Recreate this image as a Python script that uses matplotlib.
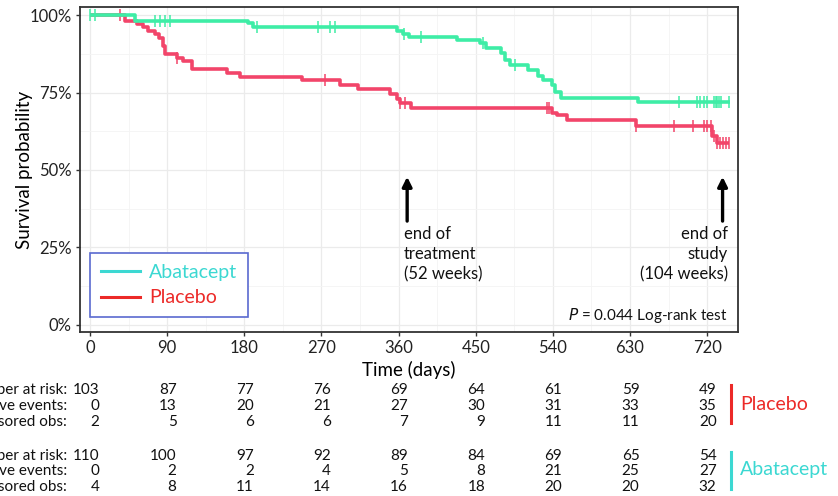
import numpy as np
import matplotlib
matplotlib.use("Agg")
import matplotlib.pyplot as plt
from matplotlib.lines import Line2D
from matplotlib.transforms import blended_transform_factory

plt.rcParams['font.family'] = ['Lato', 'DejaVu Sans']

# ---------------- data ----------------
placebo_times = [0, 41, 55, 62, 68, 76, 81, 85, 88, 101, 109, 119, 160, 175, 247, 292,
                 313, 350, 358, 362, 374, 539, 545, 557, 637, 726, 731]
placebo_surv = [1.0, 0.98, 0.97, 0.96, 0.95, 0.94, 0.925, 0.90, 0.873, 0.863, 0.853, 0.825,
                0.814, 0.80, 0.79, 0.775, 0.76, 0.745, 0.728, 0.715, 0.70, 0.685, 0.677,
                0.661, 0.642, 0.61, 0.588]
placebo_end = 745
placebo_censor = [35, 101, 274, 362, 368, 533, 536, 637, 681, 703, 716, 720, 724, 728,
                  732, 735, 738, 742, 745]

abatacept_times = [0, 53, 184, 190, 358, 365, 372, 428, 455, 462, 479, 484, 490, 511,
                   523, 529, 539, 543, 549, 639]
abatacept_surv = [1.0, 0.982, 0.973, 0.962, 0.95, 0.94, 0.93, 0.919, 0.909, 0.893, 0.876,
                  0.855, 0.839, 0.823, 0.804, 0.79, 0.774, 0.751, 0.731, 0.72]
abatacept_end = 747
abatacept_censor = [0, 6, 76, 82, 88, 93, 195, 266, 280, 286, 366, 386, 459, 496, 687,
                    708, 712, 716, 720, 728, 730, 732, 734, 736, 745]

table_days = [0, 90, 180, 270, 360, 450, 540, 630, 720]
placebo_risk = [103, 87, 77, 76, 69, 64, 61, 59, 49]
placebo_events = [0, 13, 20, 21, 27, 30, 31, 33, 35]
placebo_cens = [2, 5, 6, 6, 7, 9, 11, 11, 20]
abatacept_risk = [110, 100, 97, 92, 89, 84, 69, 65, 54]
abatacept_events = [0, 2, 2, 4, 5, 8, 21, 25, 27]
abatacept_cens = [4, 8, 11, 14, 16, 18, 20, 20, 32]
row_labels = ["Number at risk:", "Cumulative events:", "Censored obs:"]

x_ticks = [0, 90, 180, 270, 360, 450, 540, 630, 720]
y_ticks = [0, 0.25, 0.5, 0.75, 1.0]
y_ticklabels = ["0%", "25%", "50%", "75%", "100%"]

# ---------------- style ----------------
C_ABA_CURVE = "#3EEDA6"
C_PLA_CURVE = "#F2456A"
C_ABA_LEG = "#3CD8D2"
C_PLA_LEG = "#EC2A28"

W, H = 838, 496
fig = plt.figure(figsize=(W / 100, H / 100), dpi=100)
ax = fig.add_axes([80 / W, 1 - 332 / H, (738 - 80) / W, (332 - 7) / H])
ax.set_xlim(-11.7, 756)
ax.set_ylim(-0.023, 1.026)

ax.set_xticks(x_ticks)
ax.set_xticks(np.arange(45, 760, 90), minor=True)
ax.set_yticks(y_ticks)
ax.set_yticklabels(y_ticklabels)
ax.set_yticks([0.125, 0.375, 0.625, 0.875], minor=True)
ax.grid(which='major', color='#ebebeb', lw=0.9)
ax.grid(which='minor', color='#f4f4f4', lw=0.6)
ax.set_axisbelow(True)
ax.tick_params(which='major', length=3, width=1, color='#333333', labelsize=12,
               labelcolor='#222222', pad=3)
ax.tick_params(which='minor', length=0)
for s in ax.spines.values():
    s.set_color('#333333')
    s.set_linewidth(1.3)


def step_value(times, surv, t):
    i = np.searchsorted(np.asarray(times), t, side='right') - 1
    return np.asarray(surv)[max(i, 0)]


for times, surv, end, cens, col in [
        (placebo_times, placebo_surv, placebo_end, placebo_censor, C_PLA_CURVE),
        (abatacept_times, abatacept_surv, abatacept_end, abatacept_censor, C_ABA_CURVE)]:
    xs = list(times) + [end]
    ys = list(surv) + [surv[-1]]
    ax.step(xs, ys, where='post', color=col, lw=2.6, solid_capstyle='butt', zorder=3)
    cy = [step_value(times, surv, t) for t in cens]
    ax.plot(cens, cy, ls='none', marker='|', ms=9, mew=1.1, color=col, zorder=3)

ax.set_xlabel("Time (days)", fontsize=13.5, labelpad=3)
ax.set_ylabel("Survival probability", fontsize=13.5)
ax.yaxis.set_label_coords((33 - 80) / (738 - 80), 0.5)

# legend
h1 = Line2D([], [], color=C_ABA_LEG, lw=2.2)
h2 = Line2D([], [], color=C_PLA_LEG, lw=2.2)
leg = ax.legend([h1, h2], ["Abatacept", "Placebo"], loc='lower left',
                bbox_to_anchor=(0.0152, 0.046), fontsize=14, frameon=True,
                fancybox=False, edgecolor='#5A6ACF', framealpha=1,
                handlelength=2.0, handletextpad=0.5, borderpad=0.55,
                labelspacing=0.45, borderaxespad=0)
leg.get_frame().set_linewidth(1.2)
for txt, c in zip(leg.get_texts(), [C_ABA_LEG, C_PLA_LEG]):
    txt.set_color(c)

# annotations
ax.annotate("", xy=(370, 0.478), xytext=(370, 0.335),
            arrowprops=dict(arrowstyle='-|>', color='black', lw=2.4, mutation_scale=14,
                            shrinkA=0, shrinkB=0))
ax.annotate("", xy=(738, 0.478), xytext=(738, 0.335),
            arrowprops=dict(arrowstyle='-|>', color='black', lw=2.4, mutation_scale=14,
                            shrinkA=0, shrinkB=0))
ax.text(366, 0.318, "end of\ntreatment\n(52 weeks)", ha='left', va='top', fontsize=12,
        linespacing=1.3, color='#111111')
ax.text(744, 0.318, "end of\nstudy\n(104 weeks)", ha='right', va='top', fontsize=12,
        linespacing=1.3, color='#111111')
ax.text(744, 0.03, r"$\it{P}$ = 0.044 Log-rank test", ha='right', va='center',
        fontsize=11, color='#111111')

# risk table
tr = blended_transform_factory(ax.transData, fig.transFigure)
row_y_pla = [390, 406, 422]
row_y_aba = [456, 471, 487]
for rows_y, rows in [(row_y_pla, [placebo_risk, placebo_events, placebo_cens]),
                     (row_y_aba, [abatacept_risk, abatacept_events, abatacept_cens])]:
    for yp, lab, vals in zip(rows_y, row_labels, rows):
        fig.text(67 / W, 1 - yp / H, lab, ha='right', va='center', fontsize=11,
                 color='#111111')
        for d, v in zip(table_days, vals):
            ax.text(d + 11, 1 - yp / H, str(v), transform=tr, ha='right', va='center',
                    fontsize=11, color='#111111', clip_on=False)

fig.add_artist(Line2D([731 / W, 731 / W], [1 - 385 / H, 1 - 423 / H], color=C_PLA_LEG,
                      lw=2.2, transform=fig.transFigure))
fig.text(740 / W, 1 - 405 / H, "Placebo", ha='left', va='center', fontsize=14,
         color=C_PLA_LEG)
fig.add_artist(Line2D([731 / W, 731 / W], [1 - 452 / H, 1 - 489 / H], color=C_ABA_LEG,
                      lw=2.2, transform=fig.transFigure))
fig.text(740 / W, 1 - 470 / H, "Abatacept", ha='left', va='center', fontsize=14,
         color=C_ABA_LEG)

fig.savefig("out.png", dpi=100)
